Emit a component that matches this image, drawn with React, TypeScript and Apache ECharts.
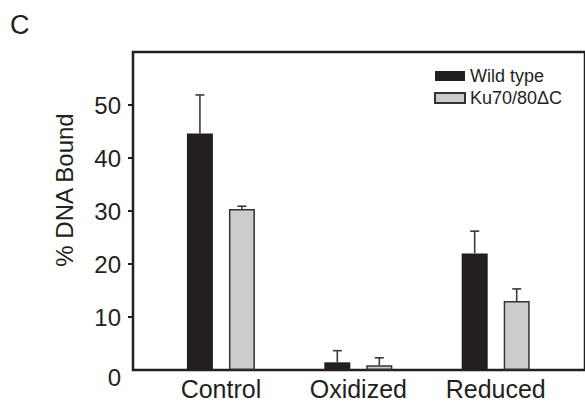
import React, { useEffect, useRef } from "react";
import * as echarts from "echarts";

const categories = ["Control", "Oxidized", "Reduced"];
const seriesNames = ["Wild type", "Ku70/80\u0394C"];
const wildType = [44.6, 1.45, 22.0];
const wildTypeErr = [51.9, 3.65, 26.2];
const ku = [30.4, 0.9, 13.0];
const kuErr = [30.9, 2.3, 15.3];
const yLabelValues = [0, 10, 20, 30, 40, 50];
const yTickValues = [10, 20, 30, 40, 50];

const FONT = "'Liberation Sans', Arial, Helvetica, sans-serif";
const TEXT = "#231f20";

function errorSeries(name: string, vals: number[], errs: number[], offset: number) {
  return {
    type: "custom",
    name: name + " err",
    coordinateSystem: "cartesian2d",
    z: 5,
    silent: true,
    data: vals.map((v, i) => [i, v, errs[i]]),
    renderItem: (params: any, api: any) => {
      const base = api.coord([api.value(0), api.value(1)]);
      const top = api.coord([api.value(0), api.value(2)]);
      const x = base[0] + offset;
      const style = { stroke: "#3a3a3a", lineWidth: 1.6 };
      return {
        type: "group",
        children: [
          { type: "line", shape: { x1: x, y1: base[1], x2: x, y2: top[1] }, style },
          { type: "line", shape: { x1: x - 4.5, y1: top[1], x2: x + 4.5, y2: top[1] }, style },
        ],
      };
    },
  };
}

export default function App() {
  const ref = useRef<HTMLDivElement>(null);
  useEffect(() => {
    if (!ref.current) return;
    const chart = echarts.init(ref.current, undefined, { renderer: "svg" });
    chart.setOption({
      animation: false,
      backgroundColor: "#ffffff",
      textStyle: { fontFamily: FONT },
      title: {
        text: "C",
        left: 10,
        top: 11,
        padding: 0,
        textStyle: { fontSize: 27, fontWeight: "normal", color: TEXT, fontFamily: FONT },
      },
      legend: {
        data: seriesNames,
        orient: "vertical",
        left: 434,
        top: 67,
        padding: 0,
        itemGap: 4,
        itemWidth: 30,
        itemHeight: 10,
        icon: "rect",
        textStyle: { fontSize: 18, color: TEXT, fontFamily: FONT, lineHeight: 18 },
      },
      grid: {
        left: 133,
        right: -2,
        top: 52,
        bottom: 32,
        show: true,
        borderColor: TEXT,
        borderWidth: 2.5,
        containLabel: false,
      },
      xAxis: {
        type: "value",
        min: -0.64,
        max: 2.65,
        axisLine: { onZero: false, lineStyle: { color: TEXT, width: 2 } },
        axisTick: { show: false },
        splitLine: { show: false },
        axisLabel: {
          customValues: [0, 1, 2],
          formatter: (v: number) => categories[Math.round(v)] ?? "",
          fontSize: 25,
          color: TEXT,
          fontFamily: FONT,
          margin: 6,
        },
      },
      yAxis: {
        type: "value",
        min: 0,
        max: 60,
        interval: 10,
        name: "% DNA Bound",
        nameLocation: "middle",
        nameGap: 57,
        nameTextStyle: { fontSize: 24, color: TEXT, fontFamily: FONT, padding: [0, 0, 0, 42] },
        axisLine: { show: true, onZero: false, lineStyle: { color: TEXT, width: 2 } },
        axisTick: { show: true, length: 5, customValues: yTickValues, lineStyle: { color: TEXT, width: 2 } },
        splitLine: { show: false },
        axisLabel: {
          customValues: yLabelValues,
          formatter: (v: number) => (v === 0 ? "{z|0}" : String(v)),
          fontSize: 24,
          color: TEXT,
          fontFamily: FONT,
          margin: 12,
          rich: { z: { fontSize: 24, color: TEXT, fontFamily: FONT, padding: [14, 0, 0, 0] } },
        },
      },
      series: [
        {
          type: "bar",
          name: seriesNames[0],
          data: wildType.map((v, i) => [i, v]),
          barWidth: 26,
          barGap: "61.5%",
          itemStyle: { color: "#231f20" },
        },
        {
          type: "bar",
          name: seriesNames[1],
          data: ku.map((v, i) => [i, v]),
          barWidth: 26,
          barGap: "61.5%",
          itemStyle: { color: "#cccccc", borderColor: "#333333", borderWidth: 1.5 },
        },
        errorSeries(seriesNames[0], wildType, wildTypeErr, -21),
        errorSeries(seriesNames[1], ku, kuErr, 21),
      ],
    });
    return () => chart.dispose();
  }, []);
  return <div ref={ref} style={{ position: "fixed", left: 0, top: 0, width: 585, height: 402 }} />;
}
